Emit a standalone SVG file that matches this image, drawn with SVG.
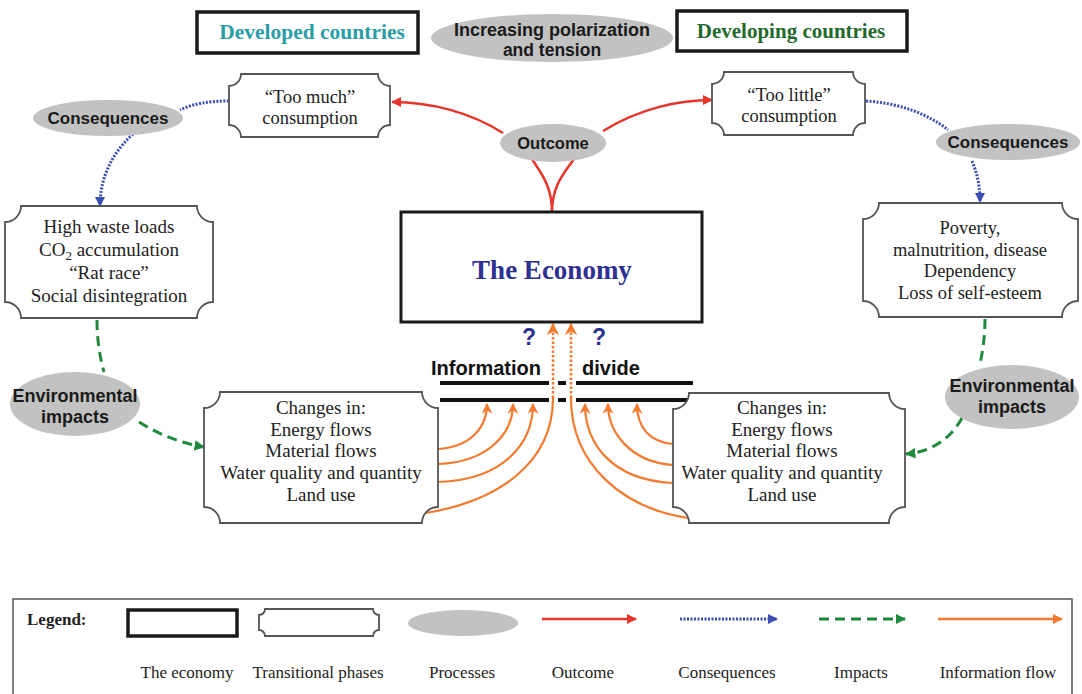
<svg xmlns="http://www.w3.org/2000/svg" width="1082" height="694" viewBox="0 0 1082 694">
<style>
.serif{font-family:"Liberation Serif","Times New Roman",serif;fill:#222;}
.sans{font-family:"Liberation Sans",Arial,sans-serif;font-weight:bold;fill:#1a1a1a;}
.box{fill:#fff;stroke:#555;stroke-width:1.8;}
.thick{fill:#fff;stroke:#1a1a1a;stroke-width:3.5;}
.proc{fill:#c2c2c2;stroke:none;}
.red{fill:none;stroke:#e8352b;stroke-width:2.5;}
.blue{fill:none;stroke:#3b4db3;stroke-width:3;stroke-dasharray:2 1.5;}
.green{fill:none;stroke:#1f8a3b;stroke-width:3;stroke-dasharray:10 6;}
.orange{fill:none;stroke:#f47a2f;stroke-width:2.2;}
.odot{fill:none;stroke:#f47a2f;stroke-width:2.5;stroke-dasharray:2.5 2;}
.divide{stroke:#111;stroke-width:4;}
</style>
<defs>
<marker id="aRed" viewBox="0 0 10 10" refX="9" refY="5" markerWidth="4" markerHeight="4" orient="auto" markerUnits="strokeWidth"><path d="M0,0 L10,5 L0,10 Z" fill="#e8352b"/></marker>
<marker id="aBlue" viewBox="0 0 10 10" refX="9" refY="5" markerWidth="3.5" markerHeight="3.5" orient="auto" markerUnits="strokeWidth"><path d="M0,0 L10,5 L0,10 Z" fill="#3b4db3"/></marker>
<marker id="aGreen" viewBox="0 0 10 10" refX="9" refY="5" markerWidth="3.5" markerHeight="3.5" orient="auto" markerUnits="strokeWidth"><path d="M0,0 L10,5 L0,10 Z" fill="#1f8a3b"/></marker>
<marker id="aOrange" viewBox="0 0 10 10" refX="9" refY="5" markerWidth="5" markerHeight="5" orient="auto" markerUnits="strokeWidth"><path d="M0,0 L10,5 L0,10 L3,5 Z" fill="#f47a2f"/></marker>
<marker id="aOrangeL" viewBox="0 0 10 10" refX="9" refY="5" markerWidth="4" markerHeight="4" orient="auto" markerUnits="strokeWidth"><path d="M0,0 L10,5 L0,10 Z" fill="#f47a2f"/></marker>
</defs>

<g id="developed">
<rect class="thick" x="197" y="12" width="221" height="41"/>
<text class="serif" x="312" y="39" text-anchor="middle" font-size="21.5" font-weight="bold" style="fill:#2a9ea6">Developed countries</text>
</g>
<g id="developing">
<rect class="thick" x="677" y="11" width="230" height="40"/>
<text class="serif" x="791" y="38" text-anchor="middle" font-size="21" font-weight="bold" style="fill:#1f6a2c">Developing countries</text>
</g>
<g id="polarization">
<ellipse class="proc" cx="552" cy="38" rx="121" ry="24"/>
<text class="sans" x="552" y="36" text-anchor="middle" font-size="18">Increasing polarization</text>
<text class="sans" x="552" y="56" text-anchor="middle" font-size="17.5">and tension</text>
</g>

<g id="connectors">
<path class="red" d="M552,212 C552,185 540,172 532,159"/>
<path class="red" d="M552,212 C552,185 565,172 574,159"/>
<path class="red" d="M503,133 C470,112 430,102 392,102" marker-end="url(#aRed)"/>
<path class="red" d="M603,131 C640,108 680,100 712,100" marker-end="url(#aRed)"/>
<path class="blue" d="M229,101 C208,101 192,104 180,110"/>
<path class="blue" d="M133,134 C110,155 100,180 100,206" marker-end="url(#aBlue)"/>
<path class="blue" d="M866,101 C900,103 930,115 948,130"/>
<path class="blue" d="M972,161 C978,175 980,188 980,202" marker-end="url(#aBlue)"/>
<path class="green" d="M97,320 C97,340 100,358 104,372"/>
<path class="green" d="M139,422 C160,435 180,443 204,447" marker-end="url(#aGreen)"/>
<path class="green" d="M985,319 C985,335 983,350 980,364"/>
<path class="green" d="M962,418 C950,440 930,452 906,454" marker-end="url(#aGreen)"/>
<line class="divide" x1="440" y1="383" x2="549" y2="383"/>
<line class="divide" x1="558" y1="383" x2="566" y2="383"/>
<line class="divide" x1="576" y1="383" x2="693" y2="383"/>
<line class="divide" x1="440" y1="400" x2="549" y2="400"/>
<line class="divide" x1="558" y1="400" x2="566" y2="400"/>
<line class="divide" x1="576" y1="400" x2="693" y2="400"/>
<path class="orange" d="M438,449 C470,447 487,428 487,404" marker-end="url(#aOrange)"/>
<path class="orange" d="M438,464 C490,462 513,432 513,404" marker-end="url(#aOrange)"/>
<path class="orange" d="M438,482 C505,480 533,442 533,404" marker-end="url(#aOrange)"/>
<path class="orange" d="M420,514 C500,502 553,462 553,398"/>
<path class="odot" d="M553,398 L553,324" marker-end="url(#aOrange)"/>
<path class="orange" d="M673,444 C650,442 637,428 637,404" marker-end="url(#aOrange)"/>
<path class="orange" d="M673,465 C630,462 608,432 608,404" marker-end="url(#aOrange)"/>
<path class="orange" d="M673,483 C610,480 585,442 585,404" marker-end="url(#aOrange)"/>
<path class="orange" d="M695,519 C620,510 571,462 571,398"/>
<path class="odot" d="M571,398 L571,324" marker-end="url(#aOrange)"/>
</g>

<g id="outcome">
<ellipse class="proc" cx="553" cy="143" rx="53" ry="19"/>
<text class="sans" x="553" y="149" text-anchor="middle" font-size="16.5">Outcome</text>
</g>
<g id="too-much">
<path class="box" d="M241,74 H378 A12,12 0 0 0 390,86 V125 A12,12 0 0 0 378,137 H241 A12,12 0 0 0 229,125 V86 A12,12 0 0 0 241,74 Z"/>
<text class="serif" x="310" y="103" text-anchor="middle" font-size="18.5">“Too much”</text>
<text class="serif" x="310" y="124" text-anchor="middle" font-size="18.5">consumption</text>
</g>
<g id="too-little">
<path class="box" d="M724,72 H853 A12,12 0 0 0 865,84 V123 A12,12 0 0 0 853,135 H724 A12,12 0 0 0 712,123 V84 A12,12 0 0 0 724,72 Z"/>
<text class="serif" x="789" y="101" text-anchor="middle" font-size="18.5">“Too little”</text>
<text class="serif" x="789" y="122" text-anchor="middle" font-size="18.5">consumption</text>
</g>
<g id="consequences-left">
<ellipse class="proc" cx="108" cy="118" rx="75" ry="18"/>
<text class="sans" x="108" y="124" text-anchor="middle" font-size="17">Consequences</text>
</g>
<g id="consequences-right">
<ellipse class="proc" cx="1008" cy="142" rx="72" ry="18"/>
<text class="sans" x="1008" y="148" text-anchor="middle" font-size="17">Consequences</text>
</g>
<g id="economy">
<rect x="401" y="212" width="301" height="110" fill="#fff" stroke="#1a1a1a" stroke-width="3"/>
<text class="serif" x="552" y="279" text-anchor="middle" font-size="27" font-weight="bold" style="fill:#2e3192">The Economy</text>
</g>
<g id="question-marks">
<text class="sans" x="529" y="345" text-anchor="middle" font-size="23" style="fill:#2e3192">?</text>
<text class="sans" x="599" y="345" text-anchor="middle" font-size="23" style="fill:#2e3192">?</text>
</g>
<g id="information-divide">
<text class="sans" x="486" y="375" text-anchor="middle" font-size="20" style="fill:#111">Information</text>
<text class="sans" x="611" y="375" text-anchor="middle" font-size="20" style="fill:#111">divide</text>
</g>
<g id="high-waste">
<path class="box" d="M21,206 H197 A16,16 0 0 0 213,222 V302 A16,16 0 0 0 197,318 H21 A16,16 0 0 0 5,302 V222 A16,16 0 0 0 21,206 Z"/>
<text class="serif" x="109" y="233" text-anchor="middle" font-size="19">High waste loads</text>
<text class="serif" x="109" y="256" text-anchor="middle" font-size="19">CO<tspan font-size="13" dy="4">2</tspan><tspan dy="-4"> accumulation</tspan></text>
<text class="serif" x="109" y="279" text-anchor="middle" font-size="19">“Rat race”</text>
<text class="serif" x="109" y="302" text-anchor="middle" font-size="19">Social disintegration</text>
</g>
<g id="poverty">
<path class="box" d="M879,203 H1062 A16,16 0 0 0 1078,219 V301 A16,16 0 0 0 1062,317 H879 A16,16 0 0 0 863,301 V219 A16,16 0 0 0 879,203 Z"/>
<text class="serif" x="970" y="234" text-anchor="middle" font-size="18.5">Poverty,</text>
<text class="serif" x="970" y="256" text-anchor="middle" font-size="18.5">malnutrition, disease</text>
<text class="serif" x="970" y="277" text-anchor="middle" font-size="18.5">Dependency</text>
<text class="serif" x="970" y="299" text-anchor="middle" font-size="18.5">Loss of self-esteem</text>
</g>
<g id="env-left">
<ellipse class="proc" cx="75" cy="404" rx="65" ry="32"/>
<text class="sans" x="75" y="402" text-anchor="middle" font-size="18">Environmental</text>
<text class="sans" x="75" y="423" text-anchor="middle" font-size="18">impacts</text>
</g>
<g id="env-right">
<ellipse class="proc" cx="1012" cy="397" rx="67" ry="32"/>
<text class="sans" x="1012" y="392" text-anchor="middle" font-size="18">Environmental</text>
<text class="sans" x="1012" y="413" text-anchor="middle" font-size="18">impacts</text>
</g>
<g id="changes-left">
<path class="box" d="M220,392 H422 A16,16 0 0 0 438,408 V507 A16,16 0 0 0 422,523 H220 A16,16 0 0 0 204,507 V408 A16,16 0 0 0 220,392 Z"/>
<text class="serif" x="321" y="414" text-anchor="middle" font-size="19">Changes in:</text>
<text class="serif" x="321" y="436" text-anchor="middle" font-size="19">Energy flows</text>
<text class="serif" x="321" y="457" text-anchor="middle" font-size="19">Material flows</text>
<text class="serif" x="321" y="479" text-anchor="middle" font-size="19">Water quality and quantity</text>
<text class="serif" x="321" y="501" text-anchor="middle" font-size="19">Land use</text>
</g>
<g id="changes-right">
<path class="box" d="M689,393 H889 A16,16 0 0 0 905,409 V507 A16,16 0 0 0 889,523 H689 A16,16 0 0 0 673,507 V409 A16,16 0 0 0 689,393 Z"/>
<text class="serif" x="782" y="414" text-anchor="middle" font-size="19">Changes in:</text>
<text class="serif" x="782" y="436" text-anchor="middle" font-size="19">Energy flows</text>
<text class="serif" x="782" y="457" text-anchor="middle" font-size="19">Material flows</text>
<text class="serif" x="782" y="479" text-anchor="middle" font-size="19">Water quality and quantity</text>
<text class="serif" x="782" y="501" text-anchor="middle" font-size="19">Land use</text>
</g>

<g id="legend">
<rect x="13" y="599" width="1059" height="110" fill="#fff" stroke="#555" stroke-width="1.5"/>
<text class="serif" x="27" y="625" font-size="17" font-weight="bold">Legend:</text>
<rect class="thick" x="128" y="610" width="109" height="26"/>
<path class="box" d="M265,609 H373 A6,6 0 0 0 379,615 V630 A6,6 0 0 0 373,636 H265 A6,6 0 0 0 259,630 V615 A6,6 0 0 0 265,609 Z"/>
<ellipse class="proc" cx="463" cy="623" rx="55" ry="13"/>
<line class="red" x1="542" y1="619" x2="636" y2="619" marker-end="url(#aRed)"/>
<line class="blue" x1="680" y1="619" x2="777" y2="619" marker-end="url(#aBlue)"/>
<line class="green" x1="819" y1="619" x2="905" y2="619" marker-end="url(#aGreen)"/>
<line class="orange" x1="938" y1="619" x2="1062" y2="619" marker-end="url(#aOrangeL)" style="stroke-width:2.5"/>
<text class="serif" x="187" y="678" text-anchor="middle" font-size="17">The economy</text>
<text class="serif" x="318" y="678" text-anchor="middle" font-size="17">Transitional phases</text>
<text class="serif" x="462" y="678" text-anchor="middle" font-size="17">Processes</text>
<text class="serif" x="583" y="678" text-anchor="middle" font-size="17">Outcome</text>
<text class="serif" x="727" y="678" text-anchor="middle" font-size="17">Consequences</text>
<text class="serif" x="861" y="678" text-anchor="middle" font-size="17">Impacts</text>
<text class="serif" x="998" y="678" text-anchor="middle" font-size="17">Information flow</text>
</g>
</svg>
